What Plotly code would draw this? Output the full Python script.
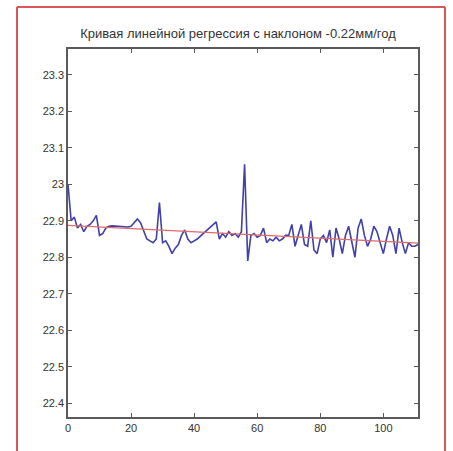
import numpy as np
import plotly.graph_objects as go

title_text = "Кривая линейной регрессия с наклоном -0.22мм/год"

# measured series (index 0..111)
values = [
    23.00, 22.90, 22.91, 22.88, 22.89, 22.87, 22.885, 22.89, 22.90, 22.915,
    22.86, 22.865, 22.88, 22.885, 22.886, 22.885, 22.885, 22.884, 22.884, 22.883,
    22.885, 22.895, 22.905, 22.895, 22.87, 22.85, 22.845, 22.84, 22.85, 22.95,
    22.84, 22.845, 22.83, 22.81, 22.825, 22.835, 22.86, 22.875, 22.85, 22.84,
    22.845, 22.85, 22.858, 22.866, 22.874, 22.882, 22.89, 22.897, 22.85, 22.865,
    22.855, 22.87, 22.86, 22.865, 22.855, 22.87, 23.055, 22.79, 22.86, 22.865,
    22.855, 22.86, 22.88, 22.84, 22.85, 22.845, 22.855, 22.845, 22.85, 22.86,
    22.86, 22.89, 22.83, 22.86, 22.89, 22.835, 22.83, 22.90, 22.82, 22.81,
    22.85, 22.86, 22.84, 22.875, 22.80, 22.88, 22.85, 22.81, 22.86, 22.885,
    22.84, 22.80, 22.88, 22.905, 22.86, 22.83, 22.85, 22.885, 22.87, 22.84,
    22.81, 22.85, 22.885, 22.86, 22.81, 22.88, 22.84, 22.81, 22.84, 22.83,
    22.83, 22.835,
]
x_index = list(range(len(values)))

y_tick_vals = [22.4, 22.5, 22.6, 22.7, 22.8, 22.9, 23.0, 23.1, 23.2, 23.3]
y_tick_text = ["22.4", "22.5", "22.6", "22.7", "22.8", "22.9", "23", "23.1", "23.2", "23.3"]
x_tick_vals = [0, 20, 40, 60, 80, 100]

# linear regression
coef = np.polyfit(x_index, values, 1)
trend = np.polyval(coef, x_index)

fig = go.Figure()
fig.add_trace(go.Scatter(x=x_index, y=values, mode="lines",
                         line=dict(color="#4040a8", width=1.6), showlegend=False))
fig.add_trace(go.Scatter(x=x_index, y=trend, mode="lines",
                         line=dict(color="#e06a6a", width=1.2), showlegend=False))

axis_common = dict(showgrid=False, zeroline=False, showline=True, linecolor="#5a5a5a",
                   linewidth=1.5, mirror="ticks", ticks="inside", ticklen=4,
                   tickcolor="#5a5a5a", tickwidth=1,
                   tickfont=dict(family="Liberation Sans, Arial, sans-serif", size=11, color="#333333"))

fig.update_xaxes(range=[0, 111], tickvals=x_tick_vals, **axis_common)
fig.update_yaxes(range=[22.362, 23.371], tickvals=y_tick_vals, ticktext=y_tick_text, **axis_common)

frame_line = dict(color="#d9575a", width=2)
fx0, fx1 = (17 - 68) / 350, (445 - 68) / 350
fy0, fy1 = (417 - 470) / 368, (417 - 7) / 368

fig.update_layout(
    width=453, height=451,
    margin=dict(l=68, r=35, t=49, b=34),
    paper_bgcolor="white", plot_bgcolor="white",
    title=dict(text=title_text, x=(68 + 170) / 453, xanchor="center", y=1 - 33 / 451, yanchor="middle",
               font=dict(family="Liberation Sans, Arial, sans-serif", size=13, color="#333333")),
    shapes=[
        dict(type="line", xref="paper", yref="paper", x0=fx0, x1=fx1, y0=fy1, y1=fy1, line=frame_line),
        dict(type="line", xref="paper", yref="paper", x0=fx0, x1=fx0, y0=fy0, y1=fy1, line=frame_line),
        dict(type="line", xref="paper", yref="paper", x0=fx1, x1=fx1, y0=fy0, y1=fy1, line=frame_line),
    ],
)

fig.write_html("out.html", config={"displayModeBar": False},
               post_script="document.body.style.margin='0';document.body.style.overflow='hidden';")
